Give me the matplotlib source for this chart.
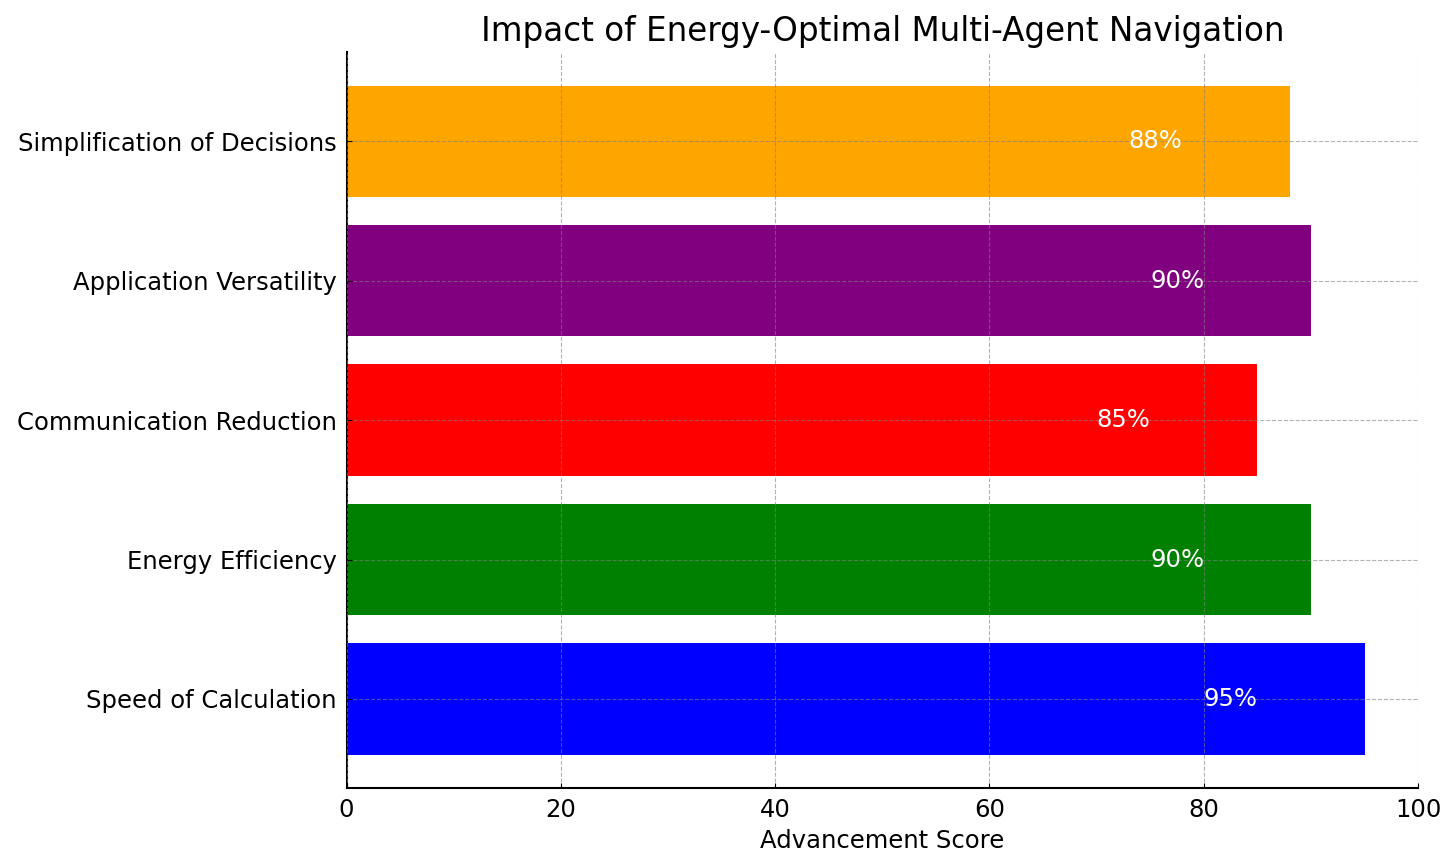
import matplotlib
matplotlib.use("Agg")
from matplotlib import pyplot as plt

categories = ['Speed of Calculation', 'Energy Efficiency', 'Communication Reduction',
              'Application Versatility', 'Simplification of Decisions']
scores = [95, 90, 85, 90, 88]
colors = ['blue', 'green', 'red', 'purple', 'orange']

fig, ax = plt.subplots(figsize=(14.56, 8.68), dpi=100)
bars = ax.barh(categories, scores, color=colors, height=0.8)

for bar, s in zip(bars, scores):
    ax.text(s - 15, bar.get_y() + bar.get_height() / 2, f'{s}%',
            va='center', ha='left', color='white', fontsize=17.5)

ax.set_xlim(0, 100)
ax.set_xlabel('Advancement Score', fontsize=17.5, labelpad=5)
ax.set_title('Impact of Energy-Optimal Multi-Agent Navigation', fontsize=23.5, pad=8)
ax.tick_params(axis='both', labelsize=17.5, direction='in', pad=7)
ax.spines['top'].set_visible(False)
ax.spines['right'].set_visible(False)
ax.spines['left'].set_linewidth(1.5)
ax.spines['bottom'].set_linewidth(1.5)
ax.set_axisbelow(False)
ax.grid(True, linestyle='--', color='gray', alpha=0.6, linewidth=0.8)

fig.subplots_adjust(left=0.238, right=0.974, top=0.94, bottom=0.092)
fig.savefig('out.png', dpi=100)
